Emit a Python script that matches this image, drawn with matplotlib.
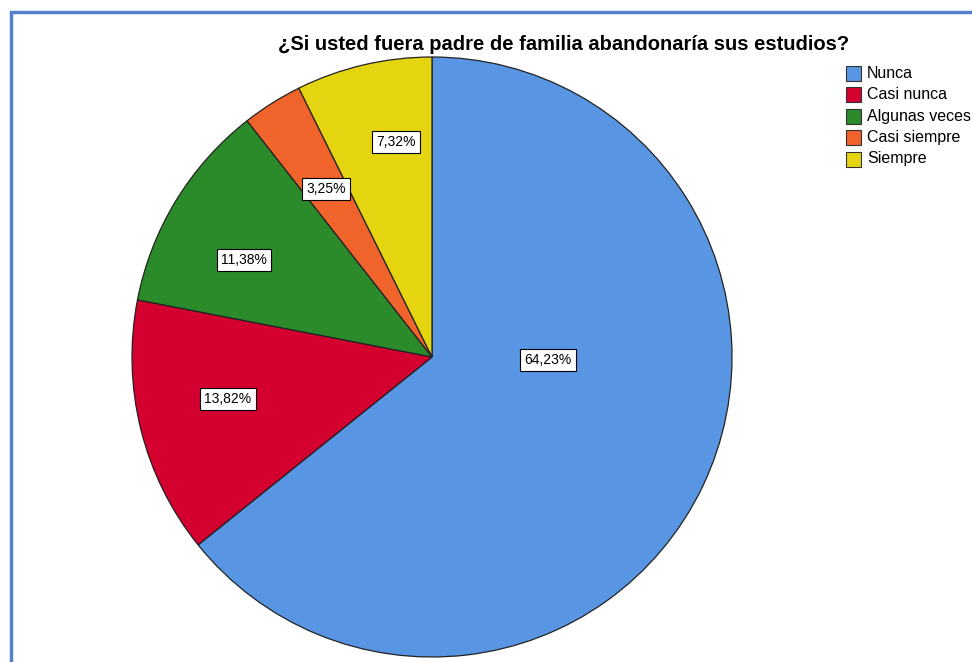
import matplotlib.pyplot as plt
from matplotlib.patches import Rectangle

# datos del gráfico
categorias = ['Nunca', 'Casi nunca', 'Algunas veces', 'Casi siempre', 'Siempre']
porcentajes = [64.23, 13.82, 11.38, 3.25, 7.32]
colores = ['#5896E3', '#D40030', '#2B8B2B', '#F0632A', '#E5D511']
titulo = '¿Si usted fuera padre de familia abandonaría sus estudios?'

plt.rcParams['font.family'] = ['Liberation Sans', 'DejaVu Sans']

W, H = 972, 662
fig = plt.figure(figsize=(W / 100, H / 100), dpi=100)
ax = fig.add_axes([0, 0, 1, 1])

# marco azul (se sale por la derecha y por abajo)
ax.add_patch(Rectangle((11, -20), W + 40, H - 12 + 20, fill=False,
                       edgecolor='#5580D0', linewidth=2.5))

centro = (432, H - 357)
wedges, texts, autotexts = ax.pie(
    porcentajes, colors=colores, startangle=90, counterclock=False,
    center=centro, radius=300, frame=True,
    autopct=lambda p: f'{p:.2f}%'.replace('.', ','), pctdistance=0.70,
    wedgeprops=dict(edgecolor='#222222', linewidth=0.9),
    textprops=dict(fontsize=10, color='black'))
ax.set_xlim(0, W)
ax.set_ylim(0, H)
ax.set_aspect('equal')
ax.axis('off')

# posición de las etiquetas respecto al centro (como en SPSS)
desplaz = [(116, -3), (-204, -42), (-188, 97), (-106, 168), (-36, 215)]
for t, (dx, dy) in zip(autotexts, desplaz):
    t.set_position((centro[0] + dx, centro[1] + dy))
    t.set_bbox(dict(facecolor='white', edgecolor='black', linewidth=0.8, pad=3))

ax.text(564, H - 44, titulo, ha='center', va='center',
        fontsize=14.5, fontweight='bold')

# leyenda
for i, (cat, col) in enumerate(zip(categorias, colores)):
    y = H - 73 - i * 21.5
    ax.add_patch(Rectangle((846, y - 7.5), 15, 15, facecolor=col,
                           edgecolor='#333333', linewidth=0.8, clip_on=False))
    ax.text(867, y, cat, ha='left', va='center', fontsize=11.5, clip_on=False)

fig.savefig('out.png', dpi=100)
